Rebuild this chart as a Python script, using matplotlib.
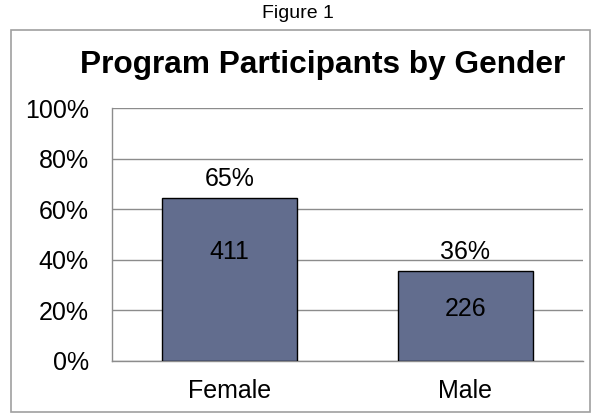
import matplotlib.pyplot as plt
from matplotlib.patches import Rectangle

# data
categories = ["Female", "Male"]
counts = [411, 226]
shares = [0.645, 0.355]
pct_labels = ["65%", "36%"]
yticks = [0, 0.2, 0.4, 0.6, 0.8, 1.0]
ytick_labels = ["0%", "20%", "40%", "60%", "80%", "100%"]

plt.rcParams["font.family"] = ["Liberation Sans", "DejaVu Sans"]

fig = plt.figure(figsize=(5.95, 4.18), dpi=100)
ax = fig.add_axes([0.188, 0.1364, 0.792, 0.6052])

# outer chart border
fig.patches.append(Rectangle((11 / 595, 1 - 412 / 418), 579 / 595, 382 / 418,
                             transform=fig.transFigure, fill=False,
                             edgecolor="#a0a0a0", linewidth=1.2))

fig.text(0.5, 1 - 13 / 418, "Figure 1", ha="center", va="center", fontsize=14)
fig.text(0.543, 1 - 65 / 418, "Program Participants by Gender", ha="center",
         va="center", fontsize=22.8, fontweight="bold")

x = list(range(len(categories)))
bars = ax.bar(x, shares, width=0.575, color="#626d8e", edgecolor="black",
              linewidth=1.0, zorder=3)

for xi, s, p in zip(x, shares, pct_labels):
    ax.annotate(p, (xi, s), xytext=(0, 5), textcoords="offset points",
                ha="center", va="bottom", fontsize=18)

label_frac = [0.67, 0.58]
for xi, s, c, f in zip(x, shares, counts, label_frac):
    ax.text(xi, s * f, str(c), ha="center", va="center", fontsize=18, zorder=4)

ax.set_xlim(-0.5, 1.5)
ax.set_ylim(0, 1.0)
ax.set_yticks(yticks)
ax.set_yticklabels(ytick_labels, fontsize=18)
ax.set_xticks(x)
ax.set_xticklabels(categories, fontsize=18)
ax.tick_params(axis="y", length=0, pad=16.5)
ax.tick_params(axis="x", length=0, pad=13)
ax.grid(axis="y", color="#8c8c8c", linewidth=1.0, zorder=0)
for side in ["top", "right"]:
    ax.spines[side].set_visible(False)
for side in ["left", "bottom"]:
    ax.spines[side].set_color("#8c8c8c")
    ax.spines[side].set_linewidth(1.0)

fig.savefig("out.png", dpi=100)
